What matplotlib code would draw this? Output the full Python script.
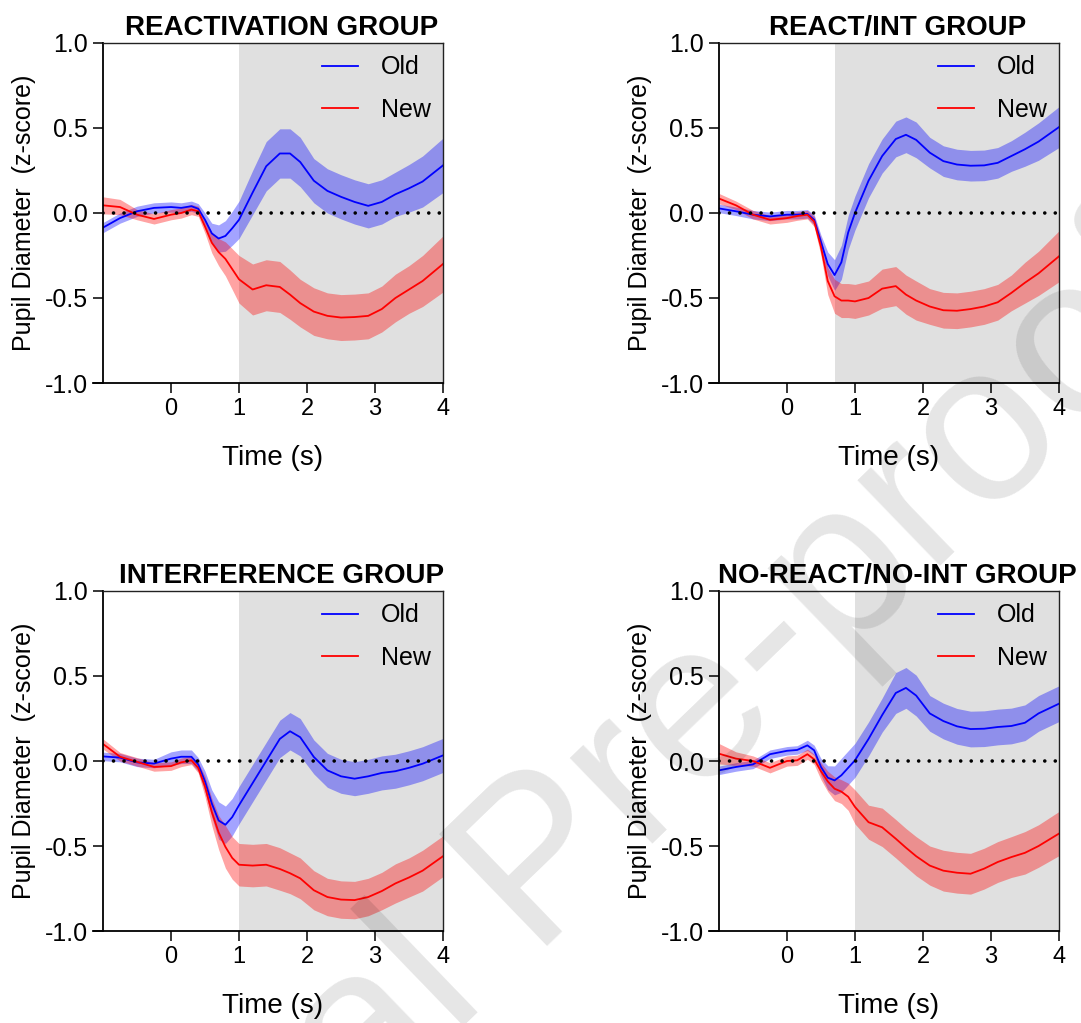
import matplotlib

matplotlib.use("Agg")
import matplotlib.pyplot as plt
import numpy as np


# shared time grid (s) for every trace
time_s = [-1.0, -0.75, -0.5, -0.25, 0.0, 0.15, 0.3, 0.4, 0.5, 0.6, 0.7, 0.8, 0.9, 1.0,
          1.2, 1.4, 1.6, 1.75, 1.9, 2.1, 2.3, 2.5, 2.7, 2.9, 3.1, 3.3, 3.5, 3.7, 4.0]

group_titles = ["REACTIVATION GROUP", "REACT/INT GROUP",
                "INTERFERENCE GROUP", "NO-REACT/NO-INT GROUP"]
window_start = [1.0, 0.7, 1.0, 1.0]

# mean pupil z-score, Old items
old_mean = [
    [-0.086, -0.03, 0.01, 0.03, 0.035, 0.03, 0.04, 0.025, -0.04, -0.12, -0.15, -0.135, -0.09, -0.04,
     0.12, 0.275, 0.35, 0.35, 0.30, 0.19, 0.13, 0.095, 0.065, 0.042, 0.065, 0.11, 0.145, 0.185, 0.28],
    [0.027, 0.01, -0.01, -0.02, -0.01, -0.01, -0.005, -0.04, -0.17, -0.30, -0.365, -0.29, -0.115, 0.0,
     0.19, 0.335, 0.435, 0.46, 0.43, 0.355, 0.305, 0.285, 0.278, 0.28, 0.295, 0.335, 0.375, 0.42, 0.505],
    [0.027, 0.02, -0.008, -0.015, 0.014, 0.025, 0.025, -0.02, -0.12, -0.25, -0.35, -0.375, -0.33, -0.26,
     -0.13, 0.0, 0.13, 0.175, 0.14, 0.024, -0.055, -0.09, -0.104, -0.09, -0.07, -0.06, -0.04, -0.016, 0.033],
    [-0.055, -0.035, -0.02, 0.04, 0.06, 0.065, 0.092, 0.063, -0.035, -0.098, -0.114, -0.084, -0.04, 0.004,
     0.13, 0.27, 0.40, 0.43, 0.385, 0.28, 0.235, 0.204, 0.188, 0.19, 0.20, 0.206, 0.225, 0.28, 0.337],
]
old_sem = [
    [0.03, 0.03, 0.03, 0.03, 0.03, 0.03, 0.03, 0.03, 0.04, 0.06, 0.08, 0.09, 0.10, 0.11,
     0.13, 0.145, 0.145, 0.145, 0.145, 0.13, 0.13, 0.13, 0.13, 0.13, 0.13, 0.13, 0.14, 0.15, 0.16],
    [0.025, 0.025, 0.025, 0.025, 0.025, 0.025, 0.025, 0.03, 0.04, 0.07, 0.09, 0.10, 0.10, 0.10,
     0.10, 0.10, 0.105, 0.105, 0.105, 0.09, 0.09, 0.09, 0.09, 0.09, 0.09, 0.09, 0.10, 0.11, 0.12],
    [0.025, 0.025, 0.025, 0.025, 0.04, 0.04, 0.04, 0.04, 0.06, 0.08, 0.11, 0.11, 0.11, 0.11,
     0.11, 0.11, 0.11, 0.11, 0.11, 0.10, 0.10, 0.10, 0.10, 0.10, 0.10, 0.10, 0.10, 0.10, 0.10],
    [0.025, 0.025, 0.025, 0.025, 0.025, 0.025, 0.03, 0.03, 0.05, 0.07, 0.085, 0.10, 0.10, 0.10,
     0.10, 0.10, 0.12, 0.12, 0.12, 0.105, 0.105, 0.105, 0.105, 0.105, 0.105, 0.105, 0.105, 0.105, 0.105],
]

# mean pupil z-score, New items
new_mean = [
    [0.045, 0.035, -0.01, -0.035, -0.01, 0.0, 0.02, 0.01, -0.08, -0.175, -0.23, -0.27, -0.33, -0.39,
     -0.45, -0.425, -0.435, -0.48, -0.53, -0.58, -0.605, -0.615, -0.612, -0.605, -0.565, -0.50, -0.45, -0.40, -0.30],
    [0.085, 0.045, -0.01, -0.04, -0.03, -0.018, -0.01, -0.05, -0.20, -0.40, -0.49, -0.515, -0.515, -0.52,
     -0.50, -0.445, -0.43, -0.48, -0.515, -0.55, -0.572, -0.575, -0.565, -0.55, -0.525, -0.47, -0.41, -0.355, -0.255],
    [0.10, 0.025, -0.005, -0.035, -0.03, -0.008, 0.004, -0.04, -0.15, -0.30, -0.42, -0.505, -0.57, -0.61,
     -0.615, -0.61, -0.635, -0.66, -0.69, -0.76, -0.80, -0.815, -0.818, -0.80, -0.765, -0.72, -0.685, -0.645, -0.56],
    [0.043, 0.014, 0.0, -0.04, 0.0, 0.004, 0.04, 0.01, -0.06, -0.12, -0.163, -0.18, -0.21, -0.27,
     -0.36, -0.39, -0.457, -0.51, -0.56, -0.615, -0.645, -0.657, -0.663, -0.633, -0.594, -0.565, -0.54, -0.50, -0.427],
]
new_sem = [
    [0.05, 0.045, 0.03, 0.03, 0.03, 0.03, 0.03, 0.03, 0.04, 0.06, 0.08, 0.10, 0.12, 0.14,
     0.15, 0.15, 0.15, 0.145, 0.14, 0.14, 0.135, 0.135, 0.135, 0.135, 0.135, 0.14, 0.14, 0.15, 0.165],
    [0.03, 0.025, 0.025, 0.025, 0.025, 0.025, 0.025, 0.03, 0.05, 0.08, 0.10, 0.10, 0.10, 0.10,
     0.10, 0.115, 0.115, 0.115, 0.115, 0.105, 0.105, 0.105, 0.105, 0.105, 0.105, 0.105, 0.12, 0.13, 0.15],
    [0.03, 0.025, 0.025, 0.025, 0.025, 0.025, 0.025, 0.03, 0.06, 0.08, 0.10, 0.125, 0.125, 0.125,
     0.125, 0.125, 0.125, 0.12, 0.12, 0.115, 0.11, 0.11, 0.11, 0.11, 0.11, 0.115, 0.115, 0.12, 0.12],
    [0.06, 0.04, 0.03, 0.03, 0.03, 0.03, 0.03, 0.03, 0.05, 0.06, 0.07, 0.07, 0.08, 0.10,
     0.10, 0.113, 0.113, 0.113, 0.115, 0.115, 0.12, 0.12, 0.12, 0.12, 0.12, 0.12, 0.125, 0.125, 0.13],
]

x_ticks = [0, 1, 2, 3, 4]
y_ticks = [-1.0, -0.5, 0.0, 0.5, 1.0]

OLD_COLOR = "#0000ff"
NEW_COLOR = "#ff0000"
WINDOW_COLOR = "#e0e0e0"

plt.rcParams["font.family"] = ["Liberation Sans", "DejaVu Sans"]
plt.rcParams["axes.unicode_minus"] = False


def draw_panel(axis, title, start, old_m, old_s, new_m, new_s):
    t = np.array(time_s)
    axis.axvspan(start, 4.0, color=WINDOW_COLOR, lw=0, zorder=0)

    for mean, sem, color, label in ((old_m, old_s, OLD_COLOR, "Old"),
                                    (new_m, new_s, NEW_COLOR, "New")):
        mean = np.array(mean)
        sem = np.array(sem)
        axis.fill_between(t, mean - sem, mean + sem, color=color, alpha=0.36, lw=0, zorder=1)
        axis.plot(t, mean, color=color, lw=1.3, label=label, zorder=2)

    # zero reference
    axis.plot([-1.0, 4.0], [0, 0], color="black", lw=2.6, ls=(0, (0.01, 2.9)),
              dash_capstyle="round", zorder=3)

    axis.set_xlim(-1.0, 4.0)
    axis.set_ylim(-1.0, 1.0)
    axis.set_xticks(x_ticks)
    axis.set_yticks(y_ticks)
    axis.set_yticklabels([f"{v:.1f}" for v in y_ticks])
    axis.tick_params(axis="both", direction="out", length=7, width=1.1, pad=4)
    axis.tick_params(axis="y", labelsize=18)
    axis.tick_params(axis="x", labelsize=17)
    for side in ("left", "bottom"):
        axis.spines[side].set_linewidth(1.3)
    for side in ("top", "right"):
        axis.spines[side].set_linewidth(1.0)
        axis.spines[side].set_color("#222222")
    axis.spines["bottom"].set_bounds(-1.15, 4.0)

    axis.set_xlabel("Time (s)", fontsize=20, labelpad=18)
    axis.set_ylabel("Pupil Diameter  (z-score)", fontsize=18, labelpad=6)
    axis.set_title(title, fontsize=20, fontweight="bold", x=0.525, pad=6)

    axis.legend(loc="upper right", frameon=False, fontsize=18, handlelength=1.45,
                handletextpad=0.9, labelspacing=0.75, borderaxespad=0.3, borderpad=0.2)


def main():
    figure = plt.figure(figsize=(10.81, 10.23), dpi=100)
    lefts = [0.0953, 0.6651, 0.0953, 0.6651]
    bottoms = [0.6256, 0.6256, 0.0899, 0.0899]
    for i in range(4):
        axis = figure.add_axes([lefts[i], bottoms[i], 0.3145, 0.3324])
        draw_panel(axis, group_titles[i], window_start[i],
                   old_mean[i], old_sem[i], new_mean[i], new_sem[i])

    # diagonal proof stamp across the sheet
    figure.text(0.54, 0.11, "Journal Pre-proof", fontsize=162, color="black", alpha=0.10,
                rotation=44, rotation_mode="anchor", ha="center", va="baseline", zorder=10)

    figure.savefig("out.png", dpi=100)
    plt.close(figure)


if __name__ == "__main__":
    main()
